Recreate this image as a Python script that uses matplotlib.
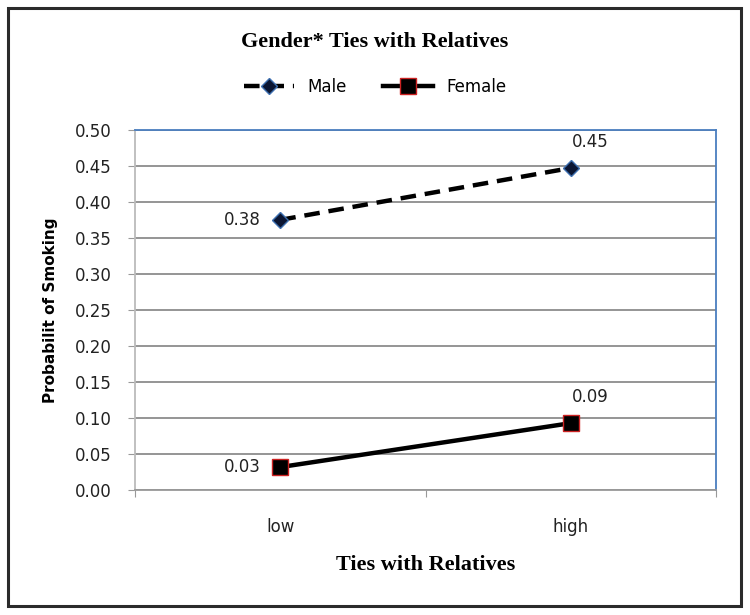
import numpy as np
import matplotlib.pyplot as plt

# data
categories = ['low', 'high']
male = [0.375, 0.447]
female = [0.032, 0.093]
male_labels = ['0.38', '0.45']
female_labels = ['0.03', '0.09']
yticks = [0.00, 0.05, 0.10, 0.15, 0.20, 0.25, 0.30, 0.35, 0.40, 0.45, 0.50]

fig = plt.figure(figsize=(7.5, 6.15), dpi=100)

# outer chart frame
fig.patches.append(plt.Rectangle((0.011, 0.015), 0.977, 0.972, transform=fig.transFigure,
                                 fill=False, edgecolor='#2b2b2b', linewidth=2.2))

ax = fig.add_axes([0.18, 0.203, 0.775, 0.586])
x = np.arange(len(categories))

ax.plot(x, male, color='black', linestyle=(0, (3.5, 2)), linewidth=3.2,
        marker='D', markersize=8, markerfacecolor='#0b1633', markeredgecolor='#3d6fb0',
        label='Male')
ax.plot(x, female, color='black', linestyle='-', linewidth=3.2,
        marker='s', markersize=11, markerfacecolor='black', markeredgecolor='#cc2222',
        label='Female')

for xi, v, t in zip(x, male, male_labels):
    if xi == 0:
        ax.annotate(t, (xi, v), xytext=(-14, 0), textcoords='offset points',
                    ha='right', va='center', fontsize=12, color='#222222')
    else:
        ax.annotate(t, (xi, v), xytext=(14, 12), textcoords='offset points',
                    ha='center', va='bottom', fontsize=12, color='#222222')
for xi, v, t in zip(x, female, female_labels):
    if xi == 0:
        ax.annotate(t, (xi, v), xytext=(-14, 0), textcoords='offset points',
                    ha='right', va='center', fontsize=12, color='#222222')
    else:
        ax.annotate(t, (xi, v), xytext=(14, 12), textcoords='offset points',
                    ha='center', va='bottom', fontsize=12, color='#222222')

ax.set_xlim(-0.5, 1.5)
ax.set_ylim(0, 0.5)
ax.set_yticks(yticks)
ax.set_yticklabels(['%.2f' % v for v in yticks], fontsize=12, color='#222222')
ax.yaxis.grid(True, color='#8c8c8c', linewidth=1.3)
ax.set_axisbelow(True)

ax.set_xticks([-0.5, 0.5, 1.5])
ax.set_xticklabels([])
ax.set_xticks(x, minor=True)
ax.set_xticklabels(categories, minor=True, fontsize=12, color='#222222')
ax.tick_params(axis='x', which='minor', length=0, pad=20)
ax.tick_params(axis='x', which='major', length=5, color='#999999')
ax.tick_params(axis='y', length=5, color='#999999', pad=12)

ax.spines['left'].set_color('#bbbbbb')
ax.spines['bottom'].set_color('#999999')
ax.spines['top'].set_color('#4a7ebf')
ax.spines['right'].set_color('#4a7ebf')
for s in ax.spines.values():
    s.set_linewidth(1.3)

ax.set_ylabel('Probabilit of Smoking', fontsize=11, fontweight='bold', labelpad=12)
ax.set_xlabel('Ties with Relatives', fontsize=16, fontweight='bold',
              family='Liberation Serif', labelpad=14)

fig.text(0.5, 0.932, 'Gender* Ties with Relatives', ha='center', va='center',
         fontsize=16, fontweight='bold', family='Liberation Serif')

fig.legend(loc='center', bbox_to_anchor=(0.5, 0.858), ncol=2, frameon=False,
           fontsize=12, handlelength=3, columnspacing=2.2)

plt.savefig('out.png', dpi=100)
